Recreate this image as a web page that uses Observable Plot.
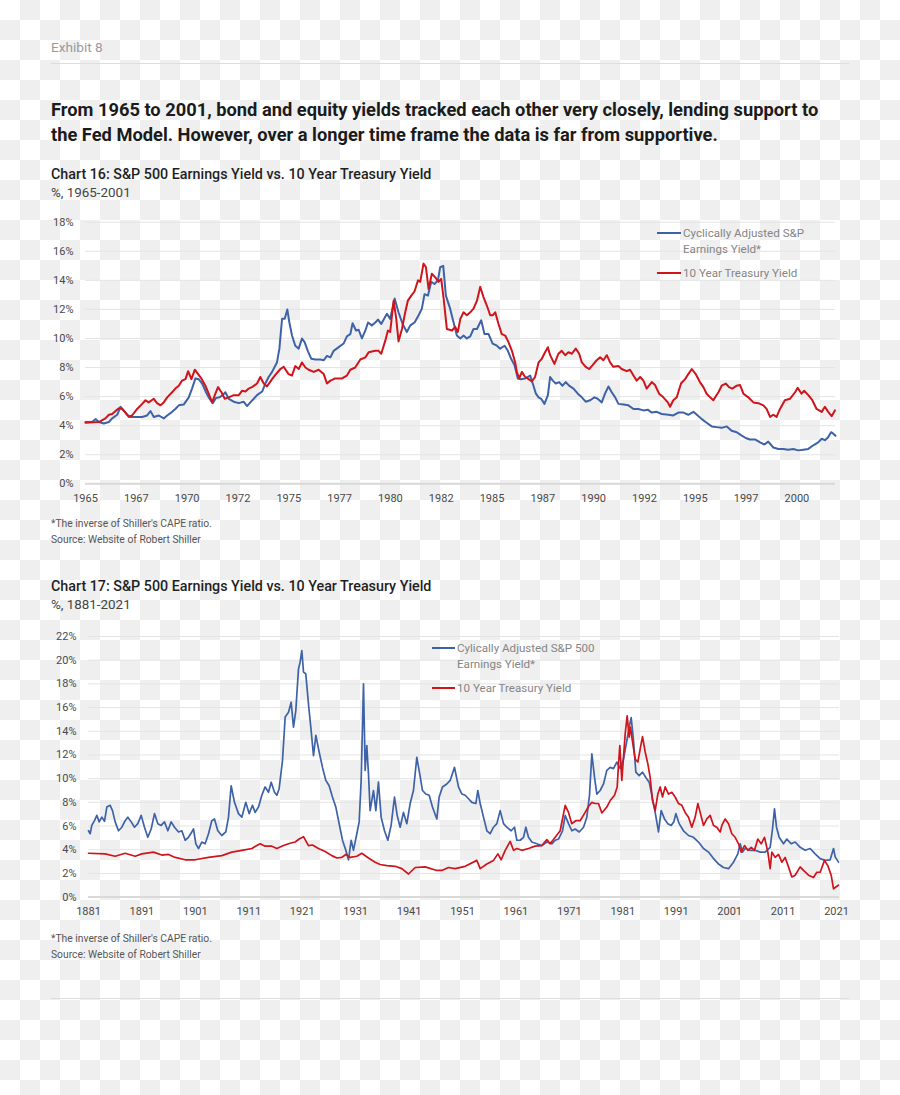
<!DOCTYPE html>
<html><head><meta charset="utf-8">
<script src="https://cdn.jsdelivr.net/npm/d3@7"></script>
<script src="https://cdn.jsdelivr.net/npm/@observablehq/plot@0.6"></script>
<style>
html,body{margin:0;padding:0;}
body{width:900px;height:1095px;position:relative;font-family:Roboto,"Open Sans",sans-serif;overflow:hidden;
background:repeating-conic-gradient(#efefef 0 25%, #ffffff 0 50%) 0 0/40px 40px;}
.abs{position:absolute;white-space:nowrap;}
.exhibit{left:51px;top:39px;font-size:13.6px;line-height:16px;color:#9a9a9a;}
.rule{position:absolute;left:51px;width:798px;height:1px;background:#dedede;}
.headline{left:51px;top:97px;font-size:18.3px;line-height:25px;font-weight:700;color:#1b1b1b;}
.ctitle{left:51px;font-size:14.3px;line-height:16px;font-weight:500;color:#1f1f1f;}
.csub{left:51px;font-size:13.4px;line-height:16px;color:#444;}
.foot{left:51px;font-size:10.3px;line-height:16px;color:#555;}
.legline{position:absolute;height:2px;}
.legtext{font-size:11.6px;line-height:16px;color:#858585;}
.chart{position:absolute;left:0;}
</style></head>
<body>
<div class="abs exhibit">Exhibit 8</div>
<div class="rule" style="top:63px"></div>
<div class="abs headline">From 1965 to 2001, bond and equity yields tracked each other very closely, lending support to<br>the Fed Model. However, over a longer time frame the data is far from supportive.</div>

<div class="abs ctitle" style="top:166px">Chart 16: S&amp;P 500 Earnings Yield vs. 10 Year Treasury Yield</div>
<div class="abs csub" style="top:185px">%, 1965-2001</div>
<div class="chart" id="c16" style="top:210px"></div>
<div class="legline" style="left:657px;top:232px;width:24px;background:#3e62a8"></div>
<div class="abs legtext" style="left:683px;top:225px">Cyclically Adjusted S&amp;P<br>Earnings Yield*</div>
<div class="legline" style="left:657px;top:272px;width:24px;background:#d0141c"></div>
<div class="abs legtext" style="left:683px;top:265px">10 Year Treasury Yield</div>
<div class="abs foot" style="top:516px">*The inverse of Shiller's CAPE ratio.<br>Source: Website of Robert Shiller</div>

<div class="abs ctitle" style="top:578px">Chart 17: S&amp;P 500 Earnings Yield vs. 10 Year Treasury Yield</div>
<div class="abs csub" style="top:597px">%, 1881-2021</div>
<div class="chart" id="c17" style="top:625px"></div>
<div class="legline" style="left:432px;top:647px;width:23px;background:#3e62a8"></div>
<div class="abs legtext" style="left:457px;top:640px">Cylically Adjusted S&amp;P 500<br>Earnings Yield*</div>
<div class="legline" style="left:432px;top:687px;width:23px;background:#d0141c"></div>
<div class="abs legtext" style="left:457px;top:680px">10 Year Treasury Yield</div>
<div class="abs foot" style="top:931px">*The inverse of Shiller's CAPE ratio.<br>Source: Website of Robert Shiller</div>
<div class="rule" style="top:998px"></div>

<script>
// ---------- Chart 16 data (year, %) ----------
const cape16 = [
[1965.00,4.25],[1965.33,4.25],[1965.49,4.45],[1965.66,4.25],[1965.90,4.15],[1966.15,4.25],[1966.31,4.5],[1966.56,4.75],[1966.72,5.3],[1966.88,5.05],
[1967.05,4.75],[1967.21,4.6],[1967.46,4.6],[1967.79,4.6],[1968.03,4.7],[1968.20,5.0],[1968.36,4.6],[1968.61,4.7],[1968.85,4.5],[1969.02,4.7],
[1969.26,4.95],[1969.42,5.15],[1969.59,5.4],[1969.83,5.45],[1970.08,5.95],[1970.24,6.55],[1970.41,7.25],[1970.57,7.2],[1970.74,6.9],[1970.93,6.3],
[1971.06,5.95],[1971.26,5.55],[1971.42,5.9],[1971.59,5.95],[1971.75,6.1],[1971.88,6.3],[1972.05,5.85],[1972.29,5.65],[1972.54,5.55],[1972.78,5.65],
[1972.95,5.35],[1973.11,5.6],[1973.28,5.85],[1973.44,6.1],[1973.69,6.35],[1973.85,6.9],[1974.01,7.35],[1974.18,7.7],[1974.31,8.05],[1974.42,8.35],
[1974.54,9.3],[1974.67,11.35],[1974.80,11.35],[1974.93,12.0],[1975.03,11.1],[1975.16,10.2],[1975.32,9.5],[1975.49,9.3],[1975.65,10.0],[1975.78,9.75],
[1975.95,9.1],[1976.11,8.6],[1976.31,8.55],[1976.55,8.55],[1976.72,8.5],[1976.88,8.8],[1977.05,8.7],[1977.21,9.15],[1977.46,9.4],[1977.70,9.65],
[1977.86,10.15],[1978.03,10.3],[1978.14,11.05],[1978.31,10.55],[1978.44,10.6],[1978.60,10.0],[1978.77,10.55],[1978.90,11.1],[1979.09,10.9],[1979.26,11.1],
[1979.39,11.3],[1979.55,11.0],[1979.83,11.7],[1979.99,11.35],[1980.21,12.75],[1980.40,11.8],[1980.60,11.0],[1980.81,10.45],[1980.98,10.9],[1981.19,11.1],
[1981.39,11.6],[1981.55,12.05],[1981.68,13.05],[1981.85,12.95],[1982.01,13.9],[1982.17,13.75],[1982.34,14.0],[1982.45,14.9],[1982.60,15.0],[1982.73,12.95],
[1982.94,12.05],[1983.11,11.1],[1983.27,10.2],[1983.44,10.0],[1983.60,10.2],[1983.76,10.0],[1983.93,10.15],[1984.09,10.65],[1984.26,10.65],[1984.47,11.25],
[1984.63,10.3],[1984.83,10.3],[1985.03,9.65],[1985.24,9.5],[1985.40,9.3],[1985.62,9.5],[1985.78,9.15],[1985.94,8.6],[1986.11,8.15],[1986.27,7.25],
[1986.43,7.2],[1986.63,7.25],[1986.88,7.45],[1987.04,6.75],[1987.16,6.2],[1987.29,5.95],[1987.42,5.85],[1987.58,5.5],[1987.75,6.1],[1987.86,7.35],
[1987.99,7.1],[1988.14,6.9],[1988.30,7.0],[1988.47,6.75],[1988.63,7.0],[1988.79,6.75],[1989.01,6.55],[1989.22,6.2],[1989.42,5.95],[1989.61,5.65],
[1989.83,5.75],[1990.04,5.95],[1990.20,5.85],[1990.40,5.6],[1990.56,6.2],[1990.73,6.7],[1990.89,6.3],[1991.06,5.95],[1991.22,5.5],[1991.47,5.45],
[1991.71,5.4],[1991.96,5.15],[1992.20,5.15],[1992.45,5.05],[1992.66,5.1],[1992.86,4.9],[1993.10,4.95],[1993.35,4.8],[1993.68,4.75],[1993.92,4.7],
[1994.17,4.9],[1994.42,4.9],[1994.66,4.75],[1994.91,4.95],[1995.12,4.7],[1995.32,4.45],[1995.56,4.2],[1995.81,3.95],[1996.05,3.9],[1996.30,3.85],
[1996.55,3.95],[1996.79,3.65],[1997.04,3.55],[1997.25,3.35],[1997.48,3.15],[1997.69,3.05],[1997.94,3.05],[1998.19,2.85],[1998.40,2.7],[1998.59,2.9],
[1998.84,2.5],[1999.09,2.4],[1999.33,2.4],[1999.58,2.35],[1999.82,2.4],[2000.07,2.3],[2000.32,2.35],[2000.56,2.4],[2000.81,2.65],[2001.05,2.85],
[2001.22,3.1],[2001.38,3.0],[2001.54,3.2],[2001.68,3.55],[2001.79,3.45],[2001.90,3.3]
];
const tsy16 = [
[1965.00,4.2],[1965.66,4.25],[1965.98,4.5],[1966.15,4.75],[1966.31,4.8],[1966.47,5.0],[1966.64,5.2],[1966.80,5.15],[1966.97,4.9],[1967.13,4.6],
[1967.29,4.7],[1967.54,5.15],[1967.79,5.5],[1967.95,5.75],[1968.11,5.6],[1968.36,5.85],[1968.52,5.55],[1968.69,5.4],[1968.85,5.6],[1969.02,5.95],
[1969.26,6.3],[1969.42,6.55],[1969.59,6.75],[1969.75,7.1],[1969.92,7.2],[1970.05,7.75],[1970.21,7.2],[1970.38,7.85],[1970.54,7.55],[1970.70,7.25],
[1970.90,6.75],[1971.06,6.2],[1971.23,5.6],[1971.39,6.2],[1971.52,6.65],[1971.69,6.3],[1971.85,5.85],[1972.05,5.95],[1972.29,6.1],[1972.54,6.1],
[1972.70,6.4],[1972.87,6.35],[1973.03,6.55],[1973.19,6.65],[1973.44,6.9],[1973.60,7.35],[1973.77,6.9],[1973.93,6.7],[1974.18,7.2],[1974.34,7.5],
[1974.59,7.9],[1974.75,8.05],[1974.99,7.55],[1975.16,7.45],[1975.32,8.1],[1975.49,7.9],[1975.65,8.35],[1975.82,8.0],[1975.98,7.85],[1976.23,7.7],
[1976.47,7.85],[1976.72,7.55],[1976.88,6.9],[1977.05,7.1],[1977.29,7.25],[1977.62,7.25],[1977.86,7.45],[1978.03,7.85],[1978.27,8.0],[1978.52,8.55],
[1978.77,8.7],[1978.93,9.05],[1979.26,9.15],[1979.42,9.15],[1979.55,8.95],[1979.75,9.85],[1979.88,10.55],[1979.99,10.45],[1980.16,12.6],[1980.29,11.35],
[1980.40,9.8],[1980.57,10.65],[1980.73,11.8],[1980.86,12.6],[1981.03,12.95],[1981.19,13.25],[1981.36,14.0],[1981.47,13.9],[1981.63,15.15],[1981.75,14.9],
[1981.88,13.4],[1982.04,14.45],[1982.21,14.2],[1982.37,13.9],[1982.50,14.1],[1982.62,12.75],[1982.78,10.65],[1983.03,10.55],[1983.19,10.8],[1983.32,10.45],
[1983.44,11.35],[1983.60,11.8],[1983.76,11.6],[1983.93,11.8],[1984.09,12.05],[1984.26,12.6],[1984.42,13.55],[1984.58,12.85],[1984.75,12.25],[1984.91,11.6],
[1985.03,11.6],[1985.16,11.8],[1985.32,11.0],[1985.48,10.3],[1985.65,10.2],[1985.81,9.75],[1985.98,9.15],[1986.14,8.35],[1986.22,7.7],[1986.34,7.25],
[1986.47,7.7],[1986.63,7.35],[1986.80,7.2],[1986.96,7.05],[1987.12,7.35],[1987.29,8.35],[1987.45,8.6],[1987.61,9.05],[1987.75,9.4],[1987.86,8.85],
[1988.07,8.25],[1988.27,8.95],[1988.43,9.15],[1988.60,8.85],[1988.76,9.05],[1988.93,8.95],[1989.12,9.3],[1989.29,8.95],[1989.42,8.35],[1989.61,8.05],
[1989.78,7.9],[1989.94,8.15],[1990.15,8.5],[1990.32,8.7],[1990.48,8.5],[1990.65,8.85],[1990.81,8.35],[1990.97,8.05],[1991.22,8.1],[1991.38,7.9],
[1991.63,7.75],[1991.79,7.85],[1991.96,7.45],[1992.12,7.1],[1992.29,7.35],[1992.45,7.1],[1992.61,6.55],[1992.86,7.0],[1993.02,6.8],[1993.22,6.2],
[1993.43,5.95],[1993.65,5.6],[1993.76,5.3],[1993.92,5.75],[1994.09,5.95],[1994.30,6.9],[1994.50,7.2],[1994.66,7.55],[1994.83,7.9],[1995.02,7.55],
[1995.23,7.0],[1995.40,6.65],[1995.56,6.2],[1995.73,5.95],[1995.89,5.75],[1996.14,6.3],[1996.30,6.75],[1996.50,6.9],[1996.66,6.65],[1996.82,6.55],
[1997.04,6.75],[1997.20,6.8],[1997.37,6.2],[1997.61,5.95],[1997.86,5.6],[1998.10,5.55],[1998.35,5.4],[1998.51,5.15],[1998.68,4.6],[1998.84,4.75],
[1999.00,4.6],[1999.17,5.15],[1999.41,5.75],[1999.66,5.85],[1999.91,6.3],[2000.04,6.6],[2000.23,6.2],[2000.36,6.4],[2000.56,6.1],[2000.76,5.75],
[2000.97,5.15],[2001.22,4.95],[2001.38,5.3],[2001.54,4.95],[2001.71,4.65],[2001.87,5.05]
];
const xTicks16 = [1965,1967.5,1970,1972.5,1975,1977.5,1980,1982.5,1985,1987.5,1990,1992.5,1995,1997.5,2000];
const xLabels16 = ["1965","1967","1970","1972","1975","1977","1980","1982","1985","1987","1990","1992","1995","1997","2000"];
const yTicks16 = [0,2,4,6,8,10,12,14,16,18];

// ---------- Chart 17 data (year, %) ----------
const cape17 = [
[1881.00,5.6],[1881.31,5.35],[1881.62,6.05],[1882.12,6.45],[1882.56,6.9],[1883.00,6.35],[1883.50,6.75],[1883.99,6.4],[1884.43,7.6],[1885.05,7.75],
[1885.49,7.3],[1885.99,6.35],[1886.61,5.6],[1887.24,5.9],[1887.86,6.45],[1888.36,6.75],[1888.99,6.35],[1889.61,5.9],[1890.23,6.2],[1890.86,6.9],
[1891.48,5.9],[1892.10,5.05],[1892.73,5.75],[1893.35,7.05],[1893.98,6.2],[1894.60,6.05],[1895.22,6.35],[1895.85,5.6],[1896.47,6.35],[1897.10,5.9],
[1897.84,5.5],[1898.47,5.6],[1899.09,4.8],[1899.71,5.05],[1900.34,5.5],[1900.65,5.75],[1901.09,4.5],[1901.59,4.1],[1902.21,4.65],[1902.83,4.5],
[1903.46,5.35],[1904.08,6.45],[1904.58,6.6],[1905.20,5.6],[1905.95,5.2],[1906.70,5.5],[1907.20,6.75],[1907.70,9.4],[1908.32,8.0],[1909.07,7.05],
[1909.70,6.75],[1910.44,8.0],[1911.07,7.05],[1911.69,7.75],[1912.19,7.15],[1912.82,7.6],[1913.44,8.6],[1914.06,9.3],[1914.69,8.85],[1915.19,9.7],
[1915.81,8.85],[1916.25,8.6],[1916.68,9.15],[1917.31,11.55],[1917.81,15.2],[1918.43,15.6],[1918.93,16.45],[1919.37,14.35],[1919.80,15.75],[1920.30,19.25],
[1920.61,19.85],[1920.93,20.8],[1921.24,19.0],[1921.67,18.85],[1922.17,16.3],[1922.67,14.05],[1923.11,11.95],[1923.55,13.65],[1924.17,12.25],[1924.79,10.95],
[1925.42,9.85],[1926.04,9.4],[1926.66,8.45],[1927.29,7.6],[1927.91,6.2],[1928.54,4.8],[1929.16,3.95],[1929.66,3.15],[1930.16,4.8],[1930.59,3.95],
[1931.22,5.35],[1931.66,6.35],[1932.03,9.85],[1932.47,18.0],[1932.78,10.7],[1933.09,12.8],[1933.40,10.4],[1933.71,7.3],[1934.34,9.0],[1934.78,7.3],
[1935.27,9.7],[1935.77,6.75],[1936.40,5.6],[1937.02,4.8],[1937.64,6.05],[1938.27,8.45],[1938.77,6.9],[1939.33,5.9],[1939.95,7.15],[1940.58,6.2],
[1941.20,7.9],[1941.82,9.0],[1942.45,11.8],[1942.88,10.7],[1943.51,9.0],[1944.13,8.7],[1944.76,8.6],[1945.38,7.6],[1946.19,6.6],[1946.63,8.45],
[1947.25,9.3],[1948.06,9.55],[1948.69,9.85],[1949.50,10.95],[1950.25,9.3],[1950.88,8.7],[1951.50,8.6],[1952.13,8.3],[1952.75,8.0],[1953.50,7.9],
[1953.87,9.0],[1954.31,7.9],[1954.93,6.75],[1955.56,5.6],[1956.18,5.35],[1956.80,5.9],[1957.43,6.2],[1958.05,7.3],[1958.68,6.2],[1959.30,5.9],
[1960.11,5.6],[1960.73,5.9],[1961.17,4.8],[1961.79,4.8],[1962.42,5.05],[1962.86,5.9],[1963.35,5.05],[1963.98,4.65],[1964.91,4.5],[1965.85,4.35],
[1966.79,4.65],[1967.72,4.5],[1968.35,4.8],[1968.97,4.9],[1969.72,5.6],[1970.22,6.9],[1970.84,6.2],[1971.46,5.6],[1972.09,5.75],[1972.84,5.5],
[1973.65,5.9],[1974.27,6.75],[1974.77,8.6],[1975.21,12.1],[1975.71,10.1],[1976.14,8.7],[1976.77,9.0],[1977.39,9.55],[1978.01,10.7],[1978.64,10.95],
[1979.26,10.85],[1979.89,11.4],[1980.51,10.85],[1981.13,11.65],[1981.76,13.2],[1982.19,14.35],[1982.57,15.15],[1983.01,13.2],[1983.44,10.55],[1984.07,10.25],
[1984.69,10.55],[1985.31,10.1],[1985.94,9.7],[1986.44,8.6],[1987.06,7.15],[1987.68,5.5],[1988.18,7.3],[1988.81,6.6],[1989.43,6.2],[1990.05,6.05],
[1990.55,6.35],[1990.93,7.05],[1991.55,6.2],[1992.36,5.6],[1993.30,5.2],[1994.23,5.05],[1995.17,4.65],[1996.11,4.1],[1997.04,3.8],[1997.98,3.25],
[1998.91,2.8],[1999.85,2.5],[2000.79,2.4],[2001.72,2.95],[2002.53,3.65],[2002.97,4.5],[2003.41,3.8],[2003.90,4.1],[2004.84,3.95],[2005.78,3.95],
[2006.71,3.8],[2007.65,3.8],[2008.58,4.2],[2009.02,5.75],[2009.39,7.45],[2009.77,5.9],[2010.27,5.05],[2011.08,4.5],[2011.70,4.9],[2012.51,4.5],
[2013.26,4.65],[2014.20,4.2],[2015.13,3.95],[2016.07,4.1],[2017.00,3.65],[2017.94,3.25],[2018.88,3.1],[2019.81,3.15],[2020.44,4.1],[2020.75,3.4],
[2021.37,2.95]
];
const tsy17 = [
[1881.00,3.7],[1884.12,3.65],[1885.99,3.45],[1887.86,3.7],[1889.73,3.45],[1890.98,3.65],[1893.16,3.8],[1894.72,3.55],[1895.97,3.6],[1897.22,3.35],
[1899.09,3.15],[1900.96,3.15],[1903.46,3.35],[1905.95,3.5],[1907.82,3.8],[1909.70,3.95],[1911.57,4.1],[1912.50,4.35],[1913.13,4.5],[1914.06,4.3],
[1915.31,4.3],[1916.25,4.1],[1917.49,4.35],[1918.74,4.55],[1919.68,4.65],[1920.43,4.9],[1921.24,5.1],[1922.17,4.35],[1922.92,4.4],[1924.04,4.1],
[1925.29,3.85],[1926.54,3.5],[1927.48,3.3],[1928.41,3.35],[1929.16,3.6],[1929.97,3.35],[1931.22,3.45],[1932.15,3.7],[1933.40,3.3],[1934.65,2.95],
[1935.59,2.75],[1936.83,2.65],[1938.39,2.6],[1939.64,2.4],[1940.89,1.95],[1942.14,2.5],[1944.01,2.55],[1946.19,2.25],[1947.13,2.25],[1948.37,2.5],
[1949.62,2.4],[1951.50,2.6],[1953.68,3.1],[1954.31,2.4],[1955.56,2.8],[1956.80,3.1],[1957.62,3.65],[1958.24,3.15],[1958.99,3.95],[1959.92,4.7],
[1960.55,3.95],[1961.17,4.1],[1962.11,3.95],[1963.35,4.1],[1964.60,4.3],[1965.85,4.35],[1966.79,4.85],[1967.41,4.5],[1968.35,5.05],[1969.28,5.6],
[1970.22,7.75],[1970.84,7.15],[1971.46,6.2],[1972.21,6.45],[1973.02,6.45],[1973.96,7.15],[1974.58,7.65],[1975.21,8.0],[1975.83,7.9],[1976.45,7.9],
[1977.08,7.1],[1978.01,7.6],[1978.64,8.15],[1979.45,8.6],[1979.95,9.3],[1980.20,11.25],[1980.45,12.8],[1980.82,9.85],[1981.13,11.8],[1981.45,13.8],
[1981.82,15.3],[1982.19,13.5],[1982.44,14.35],[1982.82,13.1],[1983.32,11.65],[1983.81,11.4],[1984.25,12.5],[1984.69,13.55],[1985.19,12.25],[1985.69,11.25],
[1986.12,10.1],[1986.56,8.15],[1987.06,7.3],[1987.56,8.7],[1988.00,9.3],[1988.43,8.45],[1988.93,9.3],[1989.56,8.7],[1990.18,8.85],[1990.80,8.45],
[1991.43,7.9],[1992.05,7.75],[1992.67,7.15],[1993.30,6.75],[1993.92,5.9],[1994.55,6.75],[1995.05,7.9],[1995.48,7.15],[1996.11,6.05],[1996.73,6.6],
[1997.35,6.9],[1997.98,6.05],[1998.60,5.9],[1999.23,5.5],[1999.54,6.05],[2000.16,6.6],[2000.79,6.2],[2001.41,5.35],[2002.03,5.05],[2002.66,4.5],
[2003.16,3.8],[2003.78,4.35],[2004.40,3.95],[2005.03,4.2],[2005.65,3.95],[2006.27,4.9],[2006.90,4.5],[2007.52,5.05],[2008.15,3.8],[2008.58,2.4],
[2008.90,3.8],[2009.52,3.35],[2010.14,3.6],[2010.77,2.95],[2011.39,3.35],[2012.01,2.55],[2012.64,1.7],[2013.26,1.85],[2014.20,2.55],[2014.82,2.25],
[2015.76,1.85],[2016.69,1.65],[2017.32,2.1],[2017.94,2.1],[2018.75,3.1],[2019.38,2.65],[2020.00,1.85],[2020.44,0.7],[2020.87,0.85],[2021.37,1.0]
];
const xTicks17 = [1881,1891,1901,1911,1921,1931,1941,1951,1961,1971,1981,1991,2001,2011,2021];
const yTicks17 = [0,2,4,6,8,10,12,14,16,18,20,22];

const BLUE = "#3e62a8", RED = "#d0141c";
const baseStyle = {background:"transparent", fontFamily:"Roboto, sans-serif", fontSize:"11px", color:"#4a4a4a", overflow:"visible"};

const labelMap16 = new Map(xTicks16.map((t,i)=>[t, xLabels16[i]]));

const c16 = Plot.plot({
  width:900, height:300,
  marginLeft:85, marginRight:65, marginTop:11.7, marginBottom:26.7,
  x:{domain:[1965,2001.9]},
  y:{domain:[0,18]},
  style:baseStyle,
  marks:[
    Plot.gridY(yTicks16, {stroke:"#e4e4e4", strokeOpacity:1}),
    Plot.ruleY([0], {stroke:"#d9d9d9", strokeWidth:2}),
    Plot.axisY(yTicks16, {tickSize:0, tickPadding:12, tickFormat:d=>d+"%"}),
    Plot.axisX(xTicks16, {tickSize:0, tickPadding:10, tickFormat:d=>labelMap16.get(d)}),
    Plot.line(cape16, {x:d=>d[0], y:d=>d[1], stroke:BLUE, strokeWidth:2}),
    Plot.line(tsy16, {x:d=>d[0], y:d=>d[1], stroke:RED, strokeWidth:2})
  ]
});
document.getElementById("c16").appendChild(c16);

const c17 = Plot.plot({
  width:900, height:300,
  marginLeft:88, marginRight:61, marginTop:11, marginBottom:28.4,
  x:{domain:[1881,2021.56]},
  y:{domain:[0,22]},
  style:baseStyle,
  marks:[
    Plot.gridY(yTicks17, {stroke:"#e4e4e4", strokeOpacity:1}),
    Plot.ruleY([0], {stroke:"#d9d9d9", strokeWidth:2}),
    Plot.axisY(yTicks17, {tickSize:0, tickPadding:12, tickFormat:d=>d+"%"}),
    Plot.axisX(xTicks17, {tickSize:0, tickPadding:10, tickFormat:d=>String(d)}),
    Plot.line(cape17, {x:d=>d[0], y:d=>d[1], stroke:BLUE, strokeWidth:1.7}),
    Plot.line(tsy17, {x:d=>d[0], y:d=>d[1], stroke:RED, strokeWidth:1.7})
  ]
});
document.getElementById("c17").appendChild(c17);
</script>
</body></html>
